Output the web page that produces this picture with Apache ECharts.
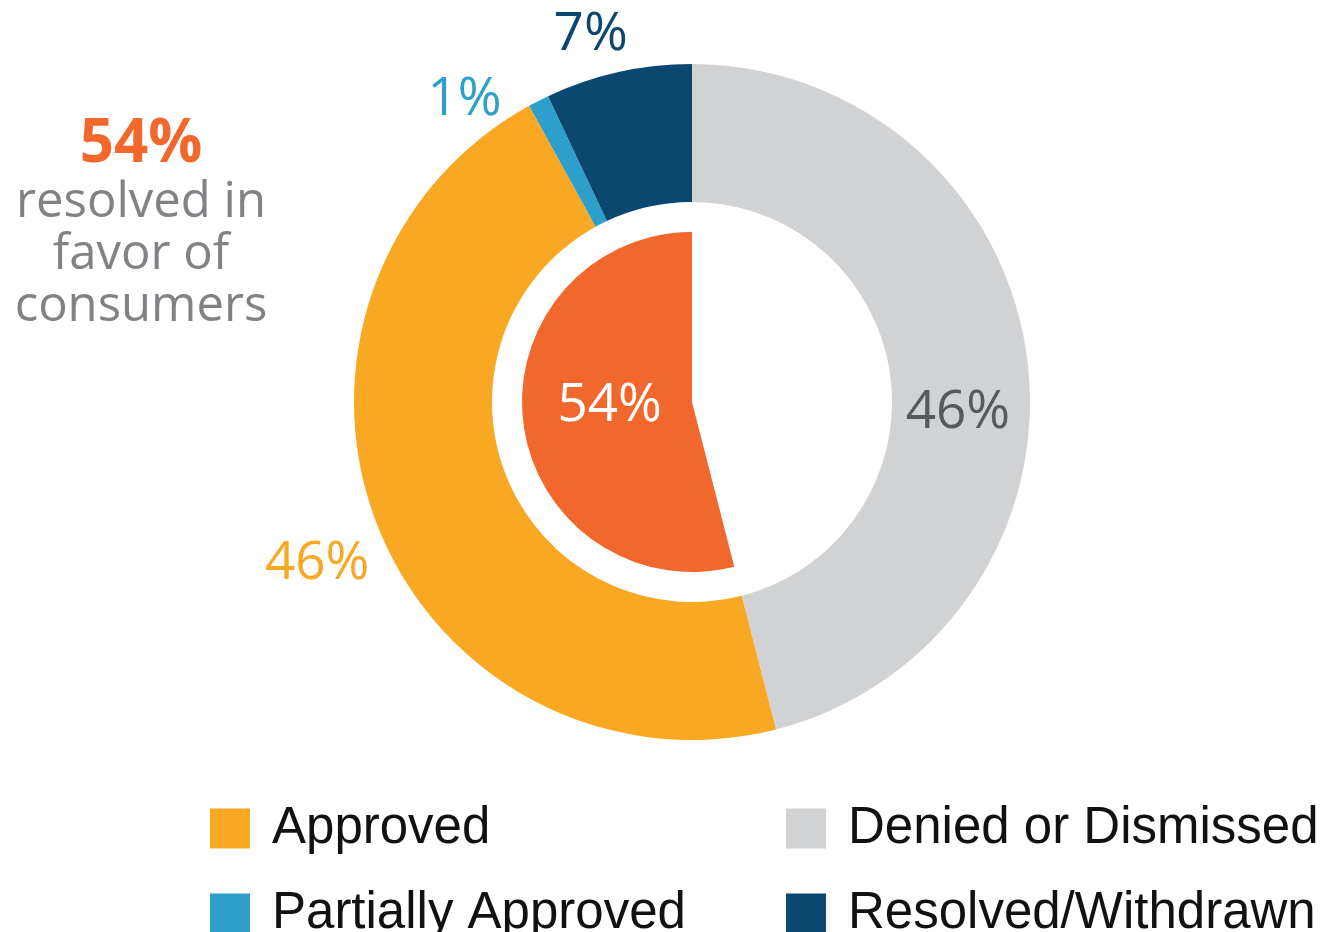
<!DOCTYPE html>
<html>
<head>
<meta charset="utf-8">
<script src="https://cdn.jsdelivr.net/npm/echarts@6/dist/echarts.min.js"></script>
<style>
  html, body { margin: 0; padding: 0; background: #fff; }
  #chart { width: 1322px; height: 932px; }
</style>
</head>
<body>
<div id="chart"></div>
<script>
// outer ring, clockwise from 12 o'clock
var outerNames = ['Denied or Dismissed', 'Approved', 'Partially Approved', 'Resolved/Withdrawn'];
var outerValues = [46, 46, 1, 7];
var outerColors = ['#d1d2d4', '#f9a823', '#2e9fca', '#0b4870'];
var outerLabelColors = ['#58595b', '#f9a823', '#2e9fca', '#0b4870'];
// where each label sits relative to the middle of its slice
var outerLabelOffsets = [[-4, 45], [-122, 62], [-104, -60], [-42, -102]];

// inner pie: other / resolved in favour of consumers
var innerNames = ['Other', 'In favor of consumers'];
var innerValues = [46, 54];

var favorText = '54%';
var favorSub = 'resolved in\nfavor of\nconsumers';

var chart = echarts.init(document.getElementById('chart'));

var outerData = outerNames.map(function (n, i) {
  return {
    name: n,
    value: outerValues[i],
    itemStyle: { color: outerColors[i] },
    label: { color: outerLabelColors[i], offset: outerLabelOffsets[i] }
  };
});

var innerData = [
  { name: innerNames[0], value: innerValues[0], itemStyle: { color: '#ffffff' }, label: { show: false } },
  { name: innerNames[1], value: innerValues[1], itemStyle: { color: '#f2672c' } }
];

function legendAt(name, left, top) {
  return {
    data: [name],
    left: left,
    top: top,
    padding: 0,
    icon: 'rect',
    itemWidth: 40,
    itemHeight: 40,
    selectedMode: false,
    textStyle: {
      fontFamily: 'Liberation Sans',
      fontSize: 51,
      color: '#111',
      padding: [0, 0, 0, 17]
    }
  };
}

var option = {
  backgroundColor: '#ffffff',
  animation: false,
  title: {
    text: favorText,
    subtext: favorSub,
    left: 136,
    top: 110,
    textAlign: 'center',
    itemGap: 2,
    textStyle: {
      fontFamily: 'Open Sans',
      fontWeight: 'bold',
      fontSize: 60,
      color: '#f2672c'
    },
    subtextStyle: {
      fontFamily: 'Open Sans',
      fontSize: 49,
      lineHeight: 52,
      color: '#808285',
      align: 'center'
    }
  },
  legend: [
    legendAt('Approved', 210, 803),
    legendAt('Denied or Dismissed', 786, 803),
    legendAt('Partially Approved', 210, 888),
    legendAt('Resolved/Withdrawn', 786, 888)
  ],
  series: [
    {
      name: 'Outcome',
      type: 'pie',
      center: [692, 402],
      radius: [200, 338],
      startAngle: 90,
      clockwise: true,
      silent: true,
      label: {
        show: true,
        position: 'inside',
        formatter: '{c}%',
        fontFamily: 'Open Sans',
        fontSize: 53
      },
      labelLine: { show: false },
      data: outerData
    },
    {
      name: 'Favor',
      type: 'pie',
      center: [692, 402],
      radius: [0, 170],
      startAngle: 90,
      clockwise: true,
      silent: true,
      label: {
        show: true,
        position: 'inside',
        formatter: '{c}%',
        fontFamily: 'Open Sans',
        fontSize: 53,
        color: '#ffffff',
        offset: [5, -7]
      },
      labelLine: { show: false },
      data: innerData
    }
  ]
};

chart.setOption(option);
</script>
</body>
</html>
